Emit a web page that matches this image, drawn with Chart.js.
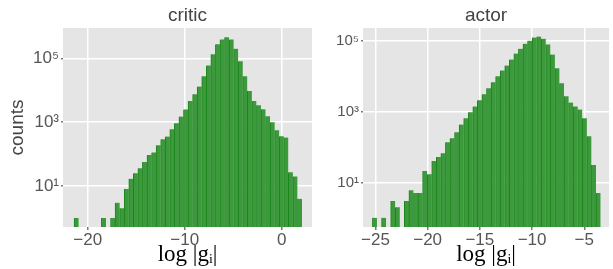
<!DOCTYPE html>
<html>
<head>
<meta charset="utf-8">
<script src="https://cdn.jsdelivr.net/npm/chart.js@4.4.1/dist/chart.umd.min.js"></script>
<style>
  body { margin: 0; background: #ffffff; }
  #wrap { position: relative; width: 613px; height: 269px; }
  canvas { position: absolute; top: 0; }
  #critic { left: 0; }
  #actor { left: 320px; }
</style>
</head>
<body>
<div id="wrap">
  <canvas id="critic" width="320" height="269"></canvas>
  <canvas id="actor" width="293" height="269"></canvas>
</div>
<script>
// histogram bins: first left edge and bin width (log |g_i|)
const criticBinStart = -21.41;
const criticBinWidth = 0.47;
const criticCounts = [
    1, null, null, null, null, null, 1, null, 1, 3,
    2, 8, 17, 25, 36, 56, 93, 113, 190, 290,
    355, 600, 930, 1500, 2500, 4600, 7500, 13000, 27500, 60000,
    133000, 275000, 390000, 455000, 390000, 200000, 81000, 27500, 9500, 4600,
    3400, 2560, 1540, 1000, 560, 360, 330, 27, 20, 4
];

const actorBinStart = -25.29;
const actorBinWidth = 0.437;
const actorCounts = [
    1, null, 1, null, 3, 2, null, 3, 6, 5,
    5, 21, 17, 40, 52, 67, 137, 178, 262, 433,
    650, 955, 1400, 2100, 3100, 4600, 6800, 9900, 14600, 20000,
    29500, 43500, 60000, 83000, 101000, 123000, 132000, 115000, 79000, 41000,
    16700, 6300, 2700, 1800, 1400, 1150, 650, 200, 31, 5
];

const yTicks = [10, 1000, 100000];
const yTickLabels = ['10¹', '10³', '10⁵'];

const bgPlugin = {
    id: 'panelBg',
    beforeDraw(chart) {
        const a = chart.chartArea;
        const ctx = chart.ctx;
        ctx.save();
        ctx.fillStyle = '#e5e5e5';
        ctx.fillRect(a.left, a.top, a.right - a.left, a.bottom - a.top);
        ctx.restore();
    }
};

function toPoints(start, width, counts) {
    return counts.map((c, i) => ({ x: start + width * (i + 0.5), y: c }));
}

function makePanel(id, opts) {
    const ctx = document.getElementById(id).getContext('2d');
    new Chart(ctx, {
        type: 'bar',
        data: {
            datasets: [{
                data: toPoints(opts.start, opts.width, opts.counts),
                backgroundColor: '#3c993c',
                borderColor: '#1b861b',
                borderWidth: { left: 1, top: 0, right: 0, bottom: 0 },
                borderSkipped: false,
                barPercentage: 1,
                categoryPercentage: 1
            }]
        },
        options: {
            responsive: false,
            animation: false,
            devicePixelRatio: 1,
            layout: { padding: { left: 0, right: opts.padRight, top: 0, bottom: 0 } },
            plugins: { legend: { display: false }, tooltip: { enabled: false } },
            scales: {
                x: {
                    type: 'linear',
                    position: 'bottom',
                    offset: false,
                    min: opts.xMin,
                    max: opts.xMax,
                    grid: { offset: false, color: '#ffffff', lineWidth: 1.5, tickColor: '#777777', tickLength: 3 },
                    border: { display: false },
                    ticks: {
                        stepSize: opts.xStep,
                        includeBounds: false,
                        padding: 0,
                        color: '#555555',
                        font: { family: 'Liberation Sans', size: 17 },
                        callback: v => String(v).replace('-', '\u2212')
                    },
                    title: {
                        display: true,
                        text: 'log |gᵢ|',
                        color: '#000000',
                        font: { family: 'Liberation Serif', size: 23 },
                        padding: { top: 0, bottom: 0 }
                    },
                    afterFit: s => { s.height = 42; }
                },
                top: {
                    type: 'linear',
                    position: 'top',
                    min: opts.xMin,
                    max: opts.xMax,
                    grid: { display: false },
                    border: { display: false },
                    ticks: { display: false },
                    title: {
                        display: true,
                        text: opts.title,
                        color: '#444444',
                        font: { family: 'Liberation Sans', size: 19 },
                        padding: { top: 4, bottom: 0 }
                    },
                    afterFit: s => { s.height = 28; }
                },
                y: {
                    type: 'logarithmic',
                    min: opts.yMin,
                    max: opts.yMax,
                    grid: { color: '#ffffff', lineWidth: 1.5, tickColor: '#777777', tickLength: 2 },
                    border: { display: false },
                    afterBuildTicks: s => { s.ticks = yTicks.map(v => ({ value: v })); },
                    ticks: {
                        padding: 2,
                        color: '#555555',
                        font: { family: 'Liberation Sans', size: opts.yFont },
                        callback: v => yTickLabels[yTicks.indexOf(v)]
                    },
                    title: {
                        display: opts.yTitle !== '',
                        text: opts.yTitle,
                        color: '#444444',
                        font: { family: 'Liberation Sans', size: 19 },
                        padding: { top: 6, bottom: 0 }
                    },
                    afterFit: s => { s.width = opts.yWidth; }
                }
            }
        },
        plugins: [bgPlugin]
    });
}

makePanel('critic', {
    start: criticBinStart, width: criticBinWidth, counts: criticCounts,
    xMin: -22.55, xMax: 3.12, xStep: 10,
    yMin: 0.52, yMax: 890000, yFont: 17,
    title: 'critic', yTitle: 'counts', yWidth: 63, padRight: 8
});

makePanel('actor', {
    start: actorBinStart, width: actorBinWidth, counts: actorCounts,
    xMin: -26.19, xMax: -2.63, xStep: 5,
    yMin: 0.55, yMax: 230000, yFont: 15,
    title: 'actor', yTitle: '', yWidth: 43, padRight: 4
});
</script>
</body>
</html>
